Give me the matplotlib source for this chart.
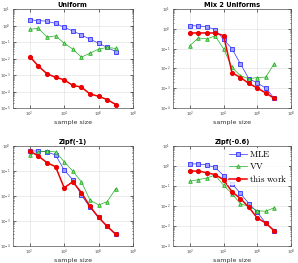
import matplotlib
matplotlib.use('Agg')
import matplotlib.pyplot as plt
import numpy as np

plt.rcParams['mathtext.fontset'] = 'cm'

# sample sizes: 10^2 ... 10^7 in half-decade steps
n = 10 ** np.arange(2, 7.01, 0.5)

# log10 of errors
uni_mle = [0.34, 0.30, 0.26, 0.13, -0.11, -0.33, -0.57, -0.83, -1.07, -1.33, -1.58]
uni_vv = [-0.23, -0.17, -0.69, -0.63, -1.07, -1.43, -1.92, -1.68, -1.43, -1.33, -1.39]
uni_ours = [-1.88, -2.46, -2.92, -3.14, -3.29, -3.63, -3.73, -4.15, -4.29, -4.49, -4.79]

mix_mle = [0.16, 0.14, 0.11, -0.04, -0.53, -1.01, -1.77, -2.52, -2.74, -2.99, -3.51]
mix_vv = [-0.85, -0.46, -0.51, -0.36, -1.01, -1.95, -2.37, -2.52, -2.46, -2.44, -1.77]
mix_ours = [-0.21, -0.21, -0.21, -0.21, -0.34, -2.22, -2.46, -2.76, -2.99, -3.24, -3.51]

z1_mle = [-0.20, -0.20, -0.24, -0.36, -0.96, -1.36, -1.97, -2.47, -2.87, -3.23, -3.55]
z1_vv = [-0.37, -0.24, -0.20, -0.24, -0.63, -1.01, -1.44, -2.17, -2.37, -2.24, -1.71]
z1_ours = [-0.20, -0.40, -0.67, -0.83, -1.68, -1.44, -1.87, -2.43, -2.87, -3.23, -3.55]

z6_mle = [0.10, 0.10, 0.05, -0.08, -0.49, -0.89, -1.38, -1.89, -2.33, -2.87, -3.26]
z6_vv = [-0.77, -0.69, -0.61, -0.46, -0.98, -1.39, -1.90, -2.03, -2.25, -2.28, -2.10]
z6_ours = [-0.26, -0.26, -0.34, -0.44, -0.69, -1.30, -1.64, -2.08, -2.62, -2.87, -3.26]

titles = ['Uniform', 'Mix 2 Uniforms', 'Zipf(-1)', 'Zipf(-0.6)']
data = [(uni_mle, uni_vv, uni_ours), (mix_mle, mix_vv, mix_ours),
        (z1_mle, z1_vv, z1_ours), (z6_mle, z6_vv, z6_ours)]
ylims = [(-5, 1), (-4, 1), (-4, 0), (-4, 1)]

fig = plt.figure(figsize=(2.98, 2.63), dpi=100)
W, H = 298.0, 263.0
boxes = [(12.5, 9, 133, 108), (173, 9, 291, 108),
         (12.5, 146, 133, 245.5), (173, 146, 291, 245.5)]

for k in range(4):
    x0, y0, x1, y1 = boxes[k]
    ax = fig.add_axes([x0 / W, 1 - y1 / H, (x1 - x0) / W, (y1 - y0) / H])
    mle, vv, ours = data[k]
    ax.loglog(n, 10 ** np.array(mle), '-s', color='#3030ff', lw=0.5, ms=2.4,
              mfc='#a0a0ff', mec='#3030ff', mew=0.6, label=r'$\mathrm{MLE}$')
    ax.loglog(n, 10 ** np.array(vv), '-^', color='#20b020', lw=0.5, ms=2.6,
              mfc='#90e090', mec='#20b020', mew=0.6, label=r'$\mathrm{VV}$')
    ax.loglog(n, 10 ** np.array(ours), '-o', color='#ee0000', lw=1.1, ms=2.7,
              mfc='#ee0000', mec='#ee0000', label=r'$\mathrm{this\ work}$')
    ax.set_xlim(1e1, 1e8)
    ax.set_ylim(10.0 ** ylims[k][0], 10.0 ** ylims[k][1])
    ax.set_xticks([1e2, 1e4, 1e6, 1e8])
    ax.set_yticks(10.0 ** np.arange(ylims[k][0], ylims[k][1] + 1))
    ax.xaxis.set_minor_locator(matplotlib.ticker.NullLocator())
    ax.tick_params(which='both', direction='in', top=True, right=True,
                   labelsize=2.8, length=2, width=0.4, pad=1.5, labelcolor='#444444')
    ax.tick_params(which='minor', length=1)
    ax.grid(True, which='major', color='#dddddd', lw=0.4)
    for s in ax.spines.values():
        s.set_linewidth(0.5)
        s.set_color('#555555')
    ax.set_title(titles[k], fontsize=4.8, fontweight='bold', pad=1.5)
    ax.set_xlabel('sample size', fontsize=4.6, labelpad=0.5, color='#333333')
    if k == 3:
        leg = ax.legend(loc='upper right', fontsize=6.5, frameon=True, fancybox=False,
                        handlelength=2.0, borderpad=0.15, labelspacing=0.2,
                        handletextpad=0.3, borderaxespad=0.2)
        leg.get_frame().set_edgecolor('white')
        leg.get_frame().set_linewidth(0)

fig.savefig('out.png', dpi=100)
